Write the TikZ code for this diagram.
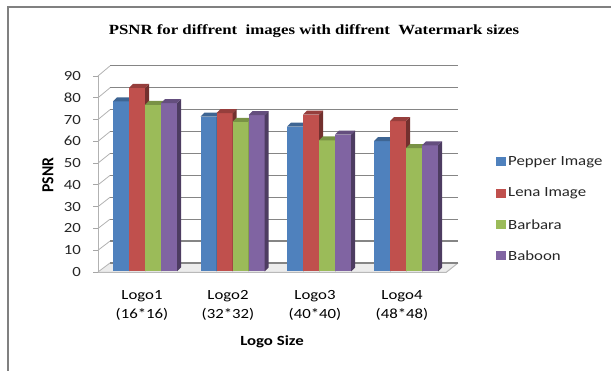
\documentclass[tikz,border=0pt]{standalone}
\usepackage{fontspec}
\setmainfont{Carlito}
\newfontfamily\titlefont{Liberation Serif}
\usepackage{graphicx}
\definecolor{cBlue}{HTML}{4F81BD}
\definecolor{cRed}{HTML}{C0504D}
\definecolor{cGreen}{HTML}{9BBB59}
\definecolor{cPurple}{HTML}{8064A2}
\definecolor{frameGray}{HTML}{808080}
\definecolor{gridGray}{HTML}{858585}
\newcommand\hs[1]{\scalebox{1.2}[1]{#1}}
\newcommand\cbar[3]{%
  \pgfmathsetmacro\yt{271.5-#2*2.18}%
  \fill[#3] (#1,271.5) rectangle (#1+16,\yt);
  \fill[#3!60!black] (#1+16,271.5) -- (#1+20,267.5) -- (#1+20,\yt-4) -- (#1+16,\yt) -- cycle;
  \fill[#3!78!black] (#1,\yt) -- (#1+4,\yt-4) -- (#1+20,\yt-4) -- (#1+16,\yt) -- cycle;
}
\tikzset{
  lbl/.style={font=\fontsize{14}{16}\selectfont, inner sep=0pt},
  ylbl/.style={lbl, anchor=east, text=black!85},
  grid/.style={gridGray, line width=1.2pt},
  legsq/.style={minimum width=10pt, minimum height=9pt, inner sep=0pt},
}
\begin{document}
\begin{tikzpicture}[x=1pt,y=-1pt]
\useasboundingbox (0,0) rectangle (611,371);
% frame
\draw[frameGray, line width=1.6pt] (8,375) -- (8,7) -- (615,7);
% title
\node[inner sep=0pt, font=\titlefont\bfseries\fontsize{14}{16}\selectfont] (title) at (314,31) {\hs{PSNR for diffrent\ \ images with diffrent\ \ Watermark sizes}};
% floor
\fill[gray!15] (98,272.5) -- (446,272.5) -- (458,263) -- (110,263) -- cycle;
\draw[gray!55, line width=1pt] (98,272.5) -- (446,272.5) -- (458,263);
% back grid + left wall diagonals + ticks
\foreach \k in {0,...,9}{
  \pgfmathsetmacro\yb{263-\k*21.9}
  \pgfmathsetmacro\yf{272-\k*21.78}
  \draw[grid] (110,\yb) -- (458,\yb);
  \draw[gray!60, line width=0.8pt] (98,\yf) -- (110,\yb);
  \draw[gray!70, line width=0.8pt] (93,\yf) -- (98,\yf);
}
\draw[gray!60, line width=0.9pt] (98,272) -- (98,76);
% y labels
\foreach \k/\t in {0/0,1/10,2/20,3/30,4/40,5/50,6/60,7/70,8/80,9/90}{
  \pgfmathsetmacro\yf{272-\k*21.78}
  \node[ylbl] (y\k) at (81,\yf) {\hs{\t}};
}
% bars
\cbar{113}{78}{cBlue}
\cbar{129}{84.2}{cRed}
\cbar{145}{76.4}{cGreen}
\cbar{161}{77.2}{cPurple}
\cbar{200.5}{71}{cBlue}
\cbar{216.5}{72.6}{cRed}
\cbar{232.5}{68.6}{cGreen}
\cbar{248.5}{71.7}{cPurple}
\cbar{287}{66.5}{cBlue}
\cbar{303}{72}{cRed}
\cbar{319}{60.2}{cGreen}
\cbar{335}{62.8}{cPurple}
\cbar{374}{59.8}{cBlue}
\cbar{390}{69}{cRed}
\cbar{406}{56.6}{cGreen}
\cbar{422}{57.8}{cPurple}
% axis titles
\node[lbl, font=\bfseries\fontsize{14}{16}\selectfont, rotate=90] (ytitle) at (48,175) {\scalebox{1.12}[1.2]{PSNR}};
\node[lbl, font=\bfseries\fontsize{14}{16}\selectfont] (xtitle) at (272,342) {\hs{Logo Size}};
% x labels
\node[lbl, align=center] (g1) at (142,305) {\hs{Logo1}\\[3pt]\hs{(16*16)}};
\node[lbl, align=center] (g2) at (228,305) {\hs{Logo2}\\[3pt]\hs{(32*32)}};
\node[lbl, align=center] (g3) at (315,305) {\hs{Logo3}\\[3pt]\hs{(40*40)}};
\node[lbl, align=center] (g4) at (402,305) {\hs{Logo4}\\[3pt]\hs{(48*48)}};
% legend
\foreach \c/\t/\yy/\n in {cBlue/Pepper Image/162/a, cRed/Lena Image/193.5/b, cGreen/Barbara/225/c, cPurple/Baboon/256/d}{
  \node[legsq, fill=\c] (sq\n) at (501,\yy) {};
  \node[lbl, anchor=west, text=black!85] (lt\n) at (508,\yy) {\hs{\t}};
}
\end{tikzpicture}
\end{document}
